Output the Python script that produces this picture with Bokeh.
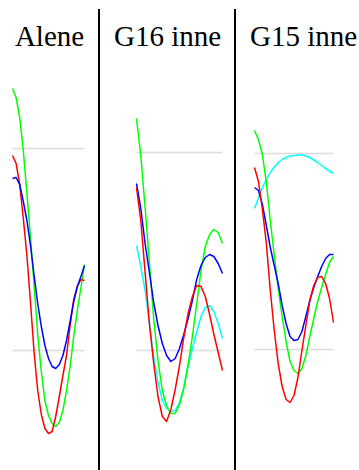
from bokeh.plotting import figure
from bokeh.layouts import row
from bokeh.models import Range1d, Label, Div
from bokeh.embed import file_html
from bokeh.resources import INLINE

# shared x positions (0..10)
x = [i * 0.5 for i in range(21)]

titles = ["Alene", "G16 inne", "G15 inne"]

# Panel 1: Alene
alene_green = [131, 126.5, 116.5, 100, 78.5, 56.5, 32.5, 8, -10.5, -25, -32.5, -36.5, -38, -36, -30, -20, -8, 7, 20, 31.5, 43]
alene_red = [97.5, 93.5, 83, 66, 47.5, 24, -1, -20, -32, -39, -41.5, -40.5, -33, -23, -12.5, -2.5, 12.5, 25.5, 32, 35.5, 35]
alene_blue = [86, 86.5, 83, 74.5, 65, 52.5, 37.5, 23.5, 12, 2.5, -4, -8, -9, -7, -2.5, 5, 14.5, 24.5, 32, 37, 42.5]
alene_ref = [0, 101]

# Panel 2: G16 inne
g16_green = [116, 97.5, 71.5, 44, 16, -5, -20, -27.5, -31.5, -31.5, -27, -19, -7, 7, 23.5, 40, 52, 58, 60.5, 59, 53.5]
g16_blue = [83.5, 71, 53.5, 39, 24, 12.5, 3.5, -2.5, -5.5, -4, 1, 8, 16, 25, 35.5, 42.5, 46.5, 48, 47, 43.5, 38.5]
g16_red = [81.5, 65, 39, 13.5, -6.5, -23, -33, -35.5, -29.5, -19.5, -7.5, 6.5, 18.5, 27, 32.5, 32, 27, 18, 8, -1, -10]
g16_cyan = [52.5, 42, 30, 13.5, -3, -16, -25, -29, -30.5, -30, -26, -18.5, -8, 1, 9, 17, 21.5, 22.5, 19.5, 13.5, 6]
g16_ref = [0, 99]

# Panel 3: G15 inne
g15_green = [110, 105.5, 98, 84, 65, 47.5, 31, 17, 4.5, -5.5, -10, -11.5, -9, -2.5, 7, 16, 24.5, 31.5, 38, 44, 47]
g15_blue = [81.5, 80, 73, 62.5, 51.5, 42.5, 33.5, 22.5, 13.5, 7, 5, 5.5, 9.5, 17, 25, 31.5, 37, 42, 46, 48, 48]
g15_red = [91.5, 84.5, 70.5, 53.5, 30, 10, -6.5, -18, -24.5, -26, -22.5, -13.5, 0, 12.5, 25, 32.5, 36.5, 37, 33.5, 26, 14]
g15_cyan = [71, 76.25, 81.5, 85.5, 89, 91.75, 94, 95.5, 96.5, 97.25, 97.5, 97.75, 97.75, 97.25, 96.5, 95.25, 94, 92.5, 91, 89.75, 88.5]
g15_ref = [0.5, 98.5]

panels = [
    dict(title=titles[0], width=90, xr=(-0.556, 11.94), tx=41, ref=alene_ref,
         series=[(alene_green, "#00ff00"), (alene_red, "#ff0000"), (alene_blue, "#0000ff")]),
    dict(title=titles[1], width=134, xr=(-4.186, 11.395), tx=67, ref=g16_ref,
         series=[(g16_cyan, "#00ffff"), (g16_green, "#00ff00"), (g16_blue, "#0000ff"), (g16_red, "#ff0000")]),
    dict(title=titles[2], width=123, xr=(-2.278, 13.29), tx=67, ref=g15_ref,
         series=[(g15_cyan, "#00ffff"), (g15_green, "#00ff00"), (g15_blue, "#0000ff"), (g15_red, "#ff0000")]),
]

H = 462
items = []
for i, pd_ in enumerate(panels):
    p = figure(width=pd_["width"], height=H, output_backend="svg", toolbar_location=None,
               x_range=Range1d(*pd_["xr"]), y_range=Range1d(-60, 171), min_border=0,
               x_axis_location=None, y_axis_location=None)
    p.grid.visible = False
    p.outline_line_color = None
    p.background_fill_color = "white"
    p.border_fill_color = "white"
    for r in pd_["ref"]:
        p.line([x[0], x[-1]], [r, r], line_color="#dcdcdc", line_width=1.6)
    for ys, c in pd_["series"]:
        p.line(x, ys, line_color=c, line_width=1.5, line_join="round")
    p.add_layout(Label(x=pd_["tx"], y=H - 27, x_units="screen", y_units="screen",
                       text=pd_["title"], text_align="center", text_baseline="alphabetic",
                       text_font="Liberation Serif",
                       text_font_size="29px", text_color="black"))
    items.append(p)
    if i < 2:
        items.append(Div(text="", width=2, height=H - 1, margin=(1, 0, 0, 0),
                         styles={"background-color": "black"}))

layout = row(*items, spacing=0, margin=(8, 0, 0, 8))
open("out.html", "w").write(file_html(layout, INLINE))
